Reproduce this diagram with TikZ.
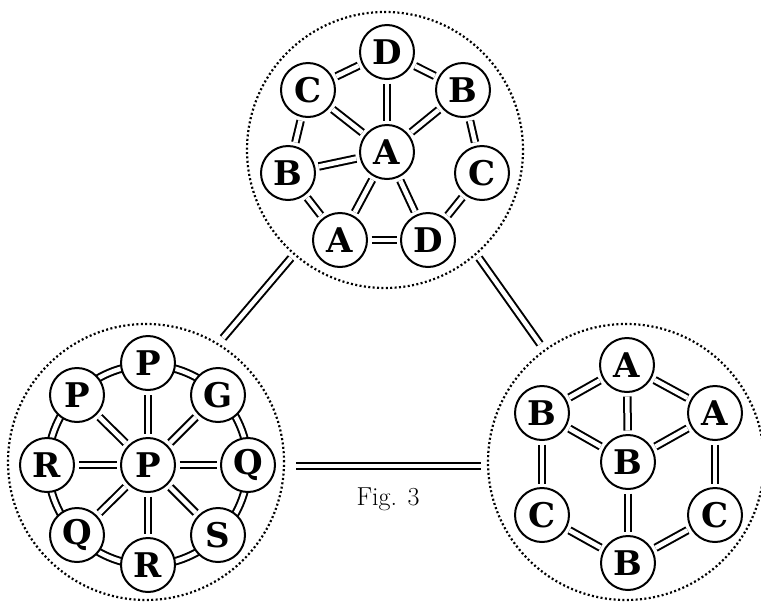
\documentclass[tikz,border=0pt]{standalone}
\usepackage{fontspec}
\newfontfamily\atomfont{DejaVu Serif}
\begin{document}
\begin{tikzpicture}[x=1pt,y=-1pt,
  atom/.style={circle,draw,line width=2pt,fill=white,minimum size=54pt,inner sep=0pt,
    font=\atomfont\bfseries\fontsize{34}{34}\selectfont},
  bond/.style={draw,line width=2pt,double=white,double distance=4.5pt,shorten <=3.5pt,shorten >=3.5pt},
  ring/.style={draw,line width=2pt,double=white,double distance=4.5pt},
  group/.style={circle,draw,line width=2.2pt,dash pattern=on 2pt off 2.4pt,inner sep=0pt,minimum size=276pt}]
\useasboundingbox (0,0) rectangle (761,603);
% group circles
\node[group] (gt) at (385,150) {};
\node[group] (gl) at (146,462) {};
\node[group] (gr) at (626,462) {};
% connectors between groups
\coordinate (c1a) at (223,338); \coordinate (c1b) at (291,258);
\coordinate (c2a) at (479,258); \coordinate (c2b) at (540,344);
\coordinate (c3a) at (296,466); \coordinate (c3b) at (481,466);
\draw[bond,shorten <=0pt,shorten >=0pt] (c1a) -- (c1b);
\draw[bond,shorten <=0pt,shorten >=0pt] (c2a) -- (c2b);
\draw[bond,shorten <=0pt,shorten >=0pt] (c3a) -- (c3b);
\node[font=\fontsize{26}{26}\selectfont] (fig) at (388,499) {Fig. 3};
% top cluster
\node[atom] (tD) at (387,52) {D};
\node[atom] (tC) at (308,90) {C};
\node[atom] (tB) at (463,90) {B};
\node[atom] (tA) at (387,152) {A};
\node[atom] (tB2) at (288,173) {B};
\node[atom] (tC2) at (482,173) {C};
\node[atom] (tA2) at (340,240) {A};
\node[atom] (tD2) at (428,240) {D};
\foreach \a/\b in {tD/tC,tD/tB,tD/tA,tC/tA,tC/tB2,tB/tA,tB/tC2,tA/tB2,tA/tA2,tA/tD2,tB2/tA2,tA2/tD2,tC2/tD2}
  \draw[bond] (\a) -- (\b);
% left cluster
\draw[ring] (148,465) circle[radius=100];
\node[atom] (lP) at (148,363) {P};
\node[atom] (lP2) at (77,395) {P};
\node[atom] (lG) at (218,395) {G};
\node[atom] (lR) at (47,465) {R};
\node[atom] (lC) at (148,465) {P};
\node[atom] (lQ) at (248,465) {Q};
\node[atom] (lQ2) at (77,535) {Q};
\node[atom] (lS) at (218,535) {S};
\node[atom] (lR2) at (148,565) {R};
\foreach \b in {lP,lP2,lG,lR,lQ,lQ2,lS,lR2}
  \draw[bond] (lC) -- (\b);
% right cluster
\node[atom] (rA) at (627,365) {A};
\node[atom] (rB) at (542,413) {B};
\node[atom] (rA2) at (715,413) {A};
\node[atom] (rBc) at (628,462) {B};
\node[atom] (rC) at (542,515) {C};
\node[atom] (rC2) at (715,515) {C};
\node[atom] (rB2) at (628,563) {B};
\foreach \a/\b in {rA/rB,rA/rA2,rA/rBc,rB/rBc,rA2/rBc,rB/rC,rA2/rC2,rBc/rB2,rC/rB2,rC2/rB2}
  \draw[bond] (\a) -- (\b);
\end{tikzpicture}
\end{document}
